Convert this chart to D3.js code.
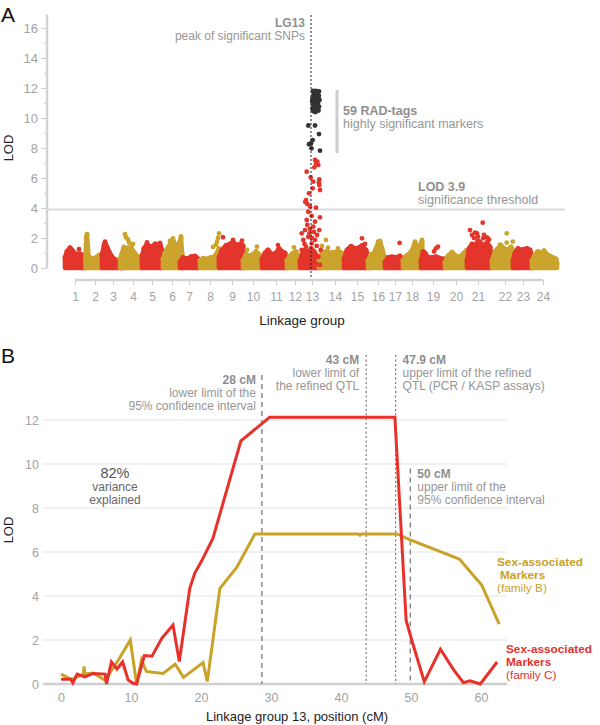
<!DOCTYPE html>
<html><head><meta charset="utf-8">
<script src="https://cdn.jsdelivr.net/npm/d3@7"></script>
<style>
body{margin:0;background:#fff}
svg{display:block}
text{font-family:"Liberation Sans", Arial, Helvetica, sans-serif}
</style>
</head><body>
<svg id="c" width="600" height="725"></svg>
<script>
// ---------------- Panel A data ----------------
const lgLabels = d3.range(1, 25).map(String);
// tick positions of each linkage-group label along the concatenated genome axis
const lgTickPos = [13,33,51,71,90,110,127,148,170,191,214,233,250,273,295,316,333,350,371,394,416,443,461,481];
// upper envelope of the dense marker cloud, per linkage group: [position, LOD]
const lgEnvelopes = [
  [[3,0.7],[5,1.1],[8,1.35],[10,1.2],[13,0.95],[18,0.95],[22,0.8],[24,0.5]],
  [[23.5,0.5],[24.3,2.0],[25,2.25],[25.7,1.5],[26.5,0.8],[30,0.6],[34,0.7],[37,0.85],[40,0.9],[41,0.5]],
  [[40,0.9],[42,1.5],[43,1.7],[45,1.4],[47,1.1],[49,0.85],[52,0.6],[56,0.5],[62,0.45]],
  [[58,0.6],[60,1.0],[62,1.4],[64,1.25],[66,1.35],[70,1.25],[72,1.05],[75,0.8],[80,0.7]],
  [[80,0.8],[82,1.3],[85,1.6],[88,1.4],[92,1.5],[95,1.55],[98,1.6],[100,1.2],[101,0.6]],
  [[101,0.6],[103,1.0],[106,1.35],[109,1.7],[111,1.85],[113,1.55],[115,1.4],[117,1.65],[119,2.0],[120,1.0]],
  [[118,0.4],[121,0.7],[125,0.6],[129,0.75],[133,0.8],[136,0.6],[138,0.4]],
  [[138,0.5],[141,0.65],[145,0.6],[149,0.7],[152,0.75],[155,1.0],[157,1.3],[158,0.6]],
  [[157,0.7],[160,1.2],[164,1.5],[168,1.6],[171,1.75],[175,1.5],[178,1.6],[181,1.5],[182,0.7]],
  [[181,0.5],[184,0.9],[187,0.8],[191,0.9],[194,1.1],[197,0.9],[200,0.7],[201,0.4]],
  [[200,0.6],[203,1.0],[206,1.2],[210,0.9],[214,1.0],[217,1.3],[220,1.1],[223,1.0],[225,0.5]],
  [[225,0.5],[228,0.8],[231,1.0],[234,1.1],[236,0.8],[237,0.4]],
  [[238,0.4],[240,0.9],[243,1.2],[246,1.0],[249,1.3],[252,1.1],[255,0.8],[258,0.6],[259,0.3]],
  [[257,0.5],[260,1.0],[264,1.1],[268,1.0],[272,1.05],[276,1.1],[280,1.0],[282,0.5]],
  [[282,0.6],[285,1.2],[289,1.45],[293,1.3],[297,1.35],[300,1.5],[304,1.2],[307,0.6]],
  [[306,0.5],[309,0.9],[312,1.0],[314,1.3],[316,1.6],[318,1.75],[320,1.3],[323,0.6]],
  [[323,0.4],[326,0.7],[330,0.75],[334,0.7],[338,0.8],[341,0.5]],
  [[341,0.5],[344,0.8],[348,1.0],[351,1.3],[353,1.7],[355,1.4],[358,1.5],[360,1.8],[361,0.6]],
  [[359,0.5],[361,1.1],[363,1.0],[366,0.7],[370,0.7],[374,0.75],[378,0.65],[382,0.6],[383,0.4]],
  [[383,0.4],[386,0.8],[390,1.05],[394,0.8],[398,0.75],[402,1.0],[404,1.15],[405,0.6]],
  [[405,0.5],[407,1.3],[410,1.6],[413,1.5],[416,1.8],[419,1.6],[422,1.5],[425,1.7],[428,1.4],[430,0.6]],
  [[430,0.5],[433,1.1],[436,1.3],[439,1.5],[442,1.3],[446,1.2],[449,1.4],[452,1.1],[453,0.5]],
  [[451,0.5],[453,1.0],[456,1.3],[459,1.2],[462,1.25],[465,1.3],[468,1.2],[471,0.5]],
  [[470,0.5],[473,0.9],[476,1.1],[479,1.0],[482,1.15],[485,0.9],[488,0.8],[491,0.7],[494,0.6],[495,0.3]]
];
// isolated markers above the cloud: [linkage group, position, LOD]
const lgOutliers = [
  [1,8,1.3],[1,17,1.25],[3,43,1.75],[4,63,2.25],[4,64,2.05],[4,66,1.9],[4,67,1.7],[4,70,1.55],[4,71,1.6],
  [5,85,1.7],[5,93,1.62],[5,98,1.68],[6,108,1.8],[6,111,1.98],[6,119,2.1],
  [8,151,1.4],[8,154,1.55],[8,155,1.75],[8,156,2.0],[8,157,2.3],
  [9,161,2.05],[9,171,1.88],[9,180,1.82],[10,185,1.2],[10,195,1.42],[11,216,1.53],[12,232,1.38],
  [14,260,1.47],[14,264,1.87],[14,266,1.35],[14,276,1.3],[15,300,1.98],[15,303,1.6],
  [16,316,1.76],[16,318,1.8],[17,337.6,1.67],[18,353,1.76],[18,360,1.87],
  [19,372,1.1],[19,374,1.31],[19,376,1.42],
  [21,408,2.53],[21,413,2.36],[21,415,2.31],[21,420.7,3.02],[21,416,2.09],[21,425,2.04],[21,421.3,1.98],
  [21,418,1.76],[21,410,2.2],[21,412,2.0],[21,422,2.2],[21,427,1.9],
  [22,444.7,2.31],[22,444.7,1.69],[22,450.7,1.76],[22,438,1.55]
];
// LG13: individual markers
const lg13Red = [
  [253,7.2],[255.3,7.09],[254,6.95],[256.3,6.87],[252.3,6.71],[244.7,6.42],[248.7,6.04],[257.3,5.91],
  [251.3,5.76],[257,5.7],[257.3,5.53],[258,5.2],[250.7,5.31],[247,4.98],[244,4.53],[245.3,4.27],[243.3,4.4],
  [248,4.1],[254,4.02],[246.3,3.75],[249.7,3.47],[258,3.38],[244.7,3.2],[253,3.09],[245.3,2.87],[251.3,2.76],
  [243,2.53],[239.7,2.31],[248,2.6],[252,2.4],[257.3,2.53],[246.3,2.07],[241.3,1.87],[253,1.87],[249.7,1.64],
  [254.7,1.47],[258.7,1.2],[244,1.42],[239.7,1.2],[251.3,0.98],[246.3,0.75],[256.3,0.75],[254,0.27],[242,0.42],
  [249.7,0.31],[258,0.2],[238,0.53],[251.3,0.53],[244.7,0.2],[247.5,2.3],[250,2.0],[255,2.2],[242.5,1.6]
];
// LG13: the 59 highly significant RAD-tags
const lg13Black = [
  [251,11.8],[252.5,11.75],[254,11.8],[255.5,11.7],[257,11.78],[251.5,11.55],[253,11.5],[255,11.6],[256.8,11.5],
  [250.5,11.3],[252.5,11.35],[254.5,11.3],[256.5,11.4],[250.2,11.1],[252,11.05],[254,11.15],[256,11.0],[257.5,11.2],
  [251,10.85],[253,10.8],[255,10.9],[257,10.75],[250.5,10.6],[252.5,10.55],[254.5,10.65],[256.5,10.5],[253.5,10.4],
  [251.5,10.45],[246.3,9.5],[253,9.5],[257,8.93],[250.7,8.53],[249,8.3],[247,8.25],[249.5,7.98],[258,7.82]
];
const lg13Pos = 249;
const threshold = 3.9;
const yTicksA = d3.range(0, 17, 2);
const yMinorA = d3.range(1, 17, 2);

// ---------------- Panel B data ----------------
const posC = [0,1.4,1.7,2.3,3.4,4.6,6.3,6.5,7.2,8.0,8.8,9.6,10.3,10.8,11.9,13.0,14.4,16.0,16.9,18.4,19.1,20.1,21.7,25.7,29.8,47.7,49.3,50.1,51.9,54.2,56.1,57.5,58.4,59.9,62.3];
const lodC = [0.22,0.22,0.05,0.45,0.32,0.48,0.45,0.0,1.0,0.68,1.0,0.18,0.03,0.0,1.29,1.26,2.08,2.68,1.02,4.35,5.03,5.6,6.62,11.05,12.12,12.12,2.9,2.0,0.1,1.58,0.64,0.06,0.14,0.0,1.0];
const posB = [0,1.5,3.2,3.3,3.4,4.6,6.3,8.2,9.9,10.8,11.5,12.2,14.6,16.3,17.5,20.3,20.9,22.7,25.1,27.7,42.5,42.7,42.9,48.0,49.9,56.9,60.1,62.6];
const lodB = [0.45,0.2,0.45,0.8,0.45,0.5,0.17,1.09,2.0,0.0,1.09,0.57,0.48,0.9,0.3,0.97,0.12,4.35,5.3,6.82,6.82,6.76,6.82,6.82,6.55,5.68,4.5,2.72];
const xTicksB = [0,10,20,30,40,50,60];
const yTicksB = [0,2,4,6,8,10,12];
const markerPos = [28.7, 43.6, 47.8, 49.9];
const markerLabels = ["28 cM","43 cM","47.9 cM","50 cM"];
const markerText = [
  ["lower limit of the","95% confidence interval"],
  ["lower limit of","the refined QTL"],
  ["upper limit of the refined","QTL (PCR / KASP assays)"],
  ["upper limit of the","95% confidence interval"]
];

const RED = "#e3352b", GOLD = "#cba42d";
const LRED = "#e8312a", LGOLD = "#c9a227";
const GRAYTXT = "#969696";

const svg = d3.select("#c");

// ================= Panel A =================
const xA = d3.scaleLinear().domain([0, 500]).range([62, 562]);
const yA = d3.scaleLinear().domain([0, 16]).range([268, 28]);

svg.append("text").attr("x", 1).attr("y", 22).attr("font-size", 21).attr("fill", "#111").text("A");

// y axis
svg.append("line").attr("x1", 47).attr("x2", 47).attr("y1", yA(16.9)).attr("y2", yA(0))
  .attr("stroke", "#d2d2d2").attr("stroke-width", 2.5);
const gyA = svg.append("g").attr("transform", "translate(47,0)")
  .call(d3.axisLeft(yA).tickValues(yTicksA).tickSize(6).tickPadding(3));
gyA.select(".domain").remove();
gyA.selectAll("line").attr("stroke", "#cfcfcf");
gyA.selectAll("text").attr("font-size", 13).attr("fill", "#a3a3a3").attr("font-family", null);
const gyAm = svg.append("g").attr("transform", "translate(47,0)")
  .call(d3.axisLeft(yA).tickValues(yMinorA).tickSize(3).tickFormat(""));
gyAm.select(".domain").remove();
gyAm.selectAll("line").attr("stroke", "#cfcfcf");
svg.append("text").attr("transform", `translate(13,${yA(8)}) rotate(-90)`)
  .attr("text-anchor", "middle").attr("font-size", 13).attr("fill", "#222").text("LOD");

// threshold
svg.append("line").attr("x1", 47).attr("x2", 565).attr("y1", yA(threshold)).attr("y2", yA(threshold))
  .attr("stroke", "#d9d9d9").attr("stroke-width", 2);

// x axis
svg.append("line").attr("x1", xA(lgTickPos[0])).attr("x2", xA(lgTickPos[23])).attr("y1", 280).attr("y2", 280)
  .attr("stroke", "#d2d2d2").attr("stroke-width", 2.5);
const gxA = svg.append("g").attr("transform", "translate(0,280)")
  .call(d3.axisBottom(xA).tickValues(lgTickPos).tickFormat((d, i) => lgLabels[i]).tickSize(5).tickPadding(7));
gxA.select(".domain").remove();
gxA.selectAll("line").attr("stroke", "#cfcfcf");
gxA.selectAll("text").attr("font-size", 12).attr("fill", "#a3a3a3").attr("font-family", null);
svg.append("text").attr("x", 302).attr("y", 325).attr("text-anchor", "middle")
  .attr("font-size", 13.5).attr("fill", "#222").text("Linkage group");

// marker clouds
const areaA = d3.area().x(d => xA(d[0])).y0(yA(0)).y1(d => yA(d[1]));
const gc = svg.append("g");
lgEnvelopes.forEach((env, i) => {
  const col = i % 2 === 0 ? RED : GOLD;
  gc.append("path").attr("d", areaA(env)).attr("fill", col).attr("stroke", col)
    .attr("stroke-width", 4.6).attr("stroke-linejoin", "round");
  // dotted texture along the cloud top
  gc.selectAll(null).data(env).join("circle")
    .attr("cx", d => xA(d[0])).attr("cy", d => yA(d[1])).attr("r", 2.5).attr("fill", col);
});
gc.selectAll("circle.o").data(lgOutliers).join("circle").attr("class", "o")
  .attr("cx", d => xA(d[1])).attr("cy", d => yA(d[2])).attr("r", 2.4)
  .attr("fill", d => (d[0] % 2 === 1 ? RED : GOLD));
gc.selectAll("circle.r13").data(lg13Red).join("circle").attr("class", "r13")
  .attr("cx", d => xA(d[0])).attr("cy", d => yA(d[1])).attr("r", 2.4).attr("fill", RED);
gc.selectAll("circle.b13").data(lg13Black).join("circle").attr("class", "b13")
  .attr("cx", d => xA(d[0])).attr("cy", d => yA(d[1])).attr("r", 2.4).attr("fill", "#333");

// LG13 peak line
svg.append("line").attr("x1", xA(lg13Pos)).attr("x2", xA(lg13Pos)).attr("y1", 15).attr("y2", 278)
  .attr("stroke", "#222").attr("stroke-width", 1).attr("stroke-dasharray", "2,2");

// annotations A
const annA = svg.append("g").attr("fill", GRAYTXT);
annA.append("text").attr("x", 305).attr("y", 27).attr("text-anchor", "end").attr("font-size", 12)
  .attr("font-weight", "bold").attr("fill", "#8f8f8f").text("LG13");
annA.append("text").attr("x", 305).attr("y", 40).attr("text-anchor", "end").attr("font-size", 12).text("peak of significant SNPs");
svg.append("line").attr("x1", 337).attr("x2", 337).attr("y1", yA(11.87)).attr("y2", yA(7.67))
  .attr("stroke", "#cdcdcd").attr("stroke-width", 3);
annA.append("text").attr("x", 343).attr("y", 115).attr("font-size", 12.5).attr("font-weight", "bold")
  .attr("fill", "#8f8f8f").text("59 RAD-tags");
annA.append("text").attr("x", 343).attr("y", 128).attr("font-size", 12.5).text("highly significant markers");
annA.append("text").attr("x", 418).attr("y", 191).attr("font-size", 12.5).attr("font-weight", "bold")
  .attr("fill", "#8f8f8f").text("LOD 3.9");
annA.append("text").attr("x", 418).attr("y", 204).attr("font-size", 12.5).text("significance threshold");

// ================= Panel B =================
const xB = d3.scaleLinear().domain([0, 60]).range([61, 481]);
const yB = d3.scaleLinear().domain([0, 12]).range([684, 420]);

svg.append("text").attr("x", 1).attr("y", 363).attr("font-size", 21).attr("fill", "#111").text("B");

// gridlines
svg.append("g").selectAll("line").data(yTicksB.filter(d => d > 0)).join("line")
  .attr("x1", 43).attr("x2", 507).attr("y1", d => yB(d)).attr("y2", d => yB(d))
  .attr("stroke", "#e2e2e2").attr("stroke-width", 1);
svg.append("line").attr("x1", 43).attr("x2", 507).attr("y1", yB(0)).attr("y2", yB(0))
  .attr("stroke", "#cfcfcf").attr("stroke-width", 2.5);

const gyB = svg.append("g").attr("transform", "translate(43,0)")
  .call(d3.axisLeft(yB).tickValues(yTicksB).tickSize(0).tickPadding(4));
gyB.select(".domain").remove();
gyB.selectAll("text").attr("font-size", 12.5).attr("fill", "#a3a3a3").attr("font-family", null);

const gxB = svg.append("g").attr("transform", `translate(0,${yB(0)})`)
  .call(d3.axisBottom(xB).tickValues(xTicksB).tickSize(0).tickPadding(9));
gxB.select(".domain").remove();
gxB.selectAll("text").attr("font-size", 12.5).attr("fill", "#a3a3a3").attr("font-family", null);

svg.append("text").attr("transform", `translate(13,${yB(7)}) rotate(-90)`)
  .attr("text-anchor", "middle").attr("font-size", 13).attr("fill", "#222").text("LOD");
svg.append("text").attr("x", 297).attr("y", 721).attr("text-anchor", "middle")
  .attr("font-size", 13).attr("fill", "#222").text("Linkage group 13, position (cM)");

// marker lines
const markerTop = [14.05, 14.95, 14.95, 9.8];
const markerDash = ["5,4", "2,2.5", "2,2.5", "5,4"];
markerPos.forEach((p, i) => {
  svg.append("line").attr("x1", xB(p)).attr("x2", xB(p)).attr("y1", yB(markerTop[i])).attr("y2", yB(0))
    .attr("stroke", i === 0 || i === 3 ? "#8a8a8a" : "#777").attr("stroke-width", i === 0 || i === 3 ? 1.5 : 1.2)
    .attr("stroke-dasharray", markerDash[i]);
});

// series lines
const lineB = d3.line().x(d => xB(d[0])).y(d => yB(d[1]));
svg.append("path").attr("d", lineB(posB.map((p, i) => [p, lodB[i]])))
  .attr("fill", "none").attr("stroke", LGOLD).attr("stroke-width", 3).attr("stroke-linejoin", "miter");
svg.append("path").attr("d", lineB(posC.map((p, i) => [p, lodC[i]])))
  .attr("fill", "none").attr("stroke", LRED).attr("stroke-width", 3).attr("stroke-linejoin", "miter");

// marker annotations
const annAnchor = [
  {x: xB(markerPos[0]) - 6, y: 384, anchor: "end"},
  {x: xB(markerPos[1]) - 7, y: 364, anchor: "end"},
  {x: xB(markerPos[2]) + 7, y: 364, anchor: "start"},
  {x: xB(markerPos[3]) + 7, y: 478, anchor: "start"}
];
annAnchor.forEach((a, i) => {
  const t = svg.append("text").attr("text-anchor", a.anchor).attr("fill", GRAYTXT).attr("font-size", 12);
  t.append("tspan").attr("x", a.x).attr("y", a.y).attr("font-weight", "bold").attr("fill", "#8f8f8f").text(markerLabels[i]);
  markerText[i].forEach((s, j) => t.append("tspan").attr("x", a.x).attr("y", a.y + 13 * (j + 1)).text(s));
});

// variance explained
const ve = svg.append("g").attr("text-anchor", "middle");
ve.append("text").attr("x", 115).attr("y", 478).attr("font-size", 14.5).attr("fill", "#555").text("82%");
ve.append("text").attr("x", 115).attr("y", 491).attr("font-size", 12).attr("fill", "#666").text("variance");
ve.append("text").attr("x", 115).attr("y", 504).attr("font-size", 12).attr("fill", "#666").text("explained");

// legends
const lg1 = svg.append("g").attr("fill", LGOLD).attr("font-size", 11.8);
lg1.append("text").attr("x", 497).attr("y", 566).attr("font-weight", "bold").text("Sex-associated");
lg1.append("text").attr("x", 500).attr("y", 579).attr("font-weight", "bold").text("Markers");
lg1.append("text").attr("x", 497).attr("y", 592).text("(family B)");
const lg2 = svg.append("g").attr("fill", LRED).attr("font-size", 11.8);
lg2.append("text").attr("x", 506).attr("y", 653).attr("font-weight", "bold").text("Sex-associated");
lg2.append("text").attr("x", 506).attr("y", 666).attr("font-weight", "bold").text("Markers");
lg2.append("text").attr("x", 506).attr("y", 679).text("(family C)");
</script>
</body></html>
